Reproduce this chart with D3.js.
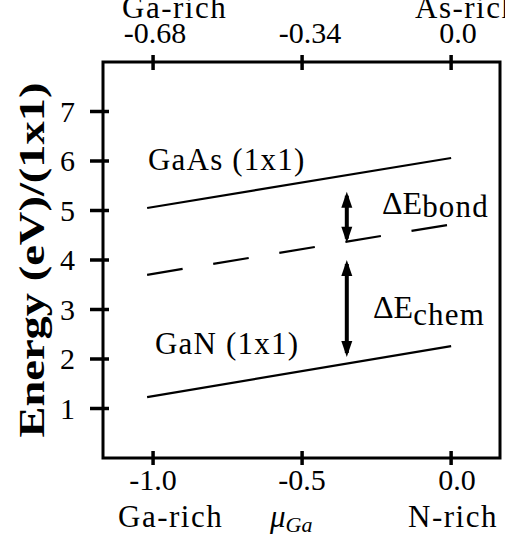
<!DOCTYPE html>
<html>
<head>
<meta charset="utf-8">
<script src="https://cdn.jsdelivr.net/npm/d3@7"></script>
<style>
  body { margin: 0; background: #fff; }
</style>
</head>
<body>
<div id="chart"></div>
<script>
// bottom axis: mu_Ga, top axis: the same range in As units
const bottomTicks = [-1.0, -0.5, 0.0];
const bottomLabels = ['-1.0', '-0.5', '0.0'];
const topTicks = [-0.68, -0.34, 0.0];
const topLabels = ['-0.68', '-0.34', '0.0'];
const yTicks = [1, 2, 3, 4, 5, 6, 7];

// energy lines (end points)
const muGa = [-1.02, 0.0];
const gaAs = [5.05, 6.06];
const mixed = [3.70, 4.72];
const gaN = [1.23, 2.26];

// double arrows at mu = -0.35
const arrowX = -0.35;
const arrowFrom = [4.35, 2.04];
const arrowTo = [5.38, 4.0];

const width = 505, height = 539;
const font = 'Liberation Serif';

const svg = d3.select('#chart').append('svg')
  .attr('width', width)
  .attr('height', height)
  .attr('font-family', font);

const x = d3.scaleLinear().domain([-1.168, 0.164]).range([103, 500]);
const xTop = d3.scaleLinear().domain([-1.168 * 0.68, 0.164 * 0.68]).range([103, 500]);
const y = d3.scaleLinear().domain([0, 8]).range([458, 62]);

// frame
svg.append('rect')
  .attr('x', x.range()[0]).attr('y', y.range()[1])
  .attr('width', x.range()[1] - x.range()[0])
  .attr('height', y.range()[0] - y.range()[1])
  .attr('fill', 'none').attr('stroke', '#000').attr('stroke-width', 3);

// ticks
svg.selectAll('.bt').data(bottomTicks).enter().append('line')
  .attr('x1', d => x(d)).attr('x2', d => x(d))
  .attr('y1', y(0) - 7).attr('y2', y(0) + 7)
  .attr('stroke', '#000').attr('stroke-width', 3.5);
svg.selectAll('.tt').data(topTicks).enter().append('line')
  .attr('x1', d => xTop(d)).attr('x2', d => xTop(d))
  .attr('y1', y(8) - 7).attr('y2', y(8) + 8)
  .attr('stroke', '#000').attr('stroke-width', 3.5);
svg.selectAll('.yt').data(yTicks).enter().append('line')
  .attr('x1', x.range()[0] - 13).attr('x2', x.range()[0] + 6)
  .attr('y1', d => y(d)).attr('y2', d => y(d))
  .attr('stroke', '#000').attr('stroke-width', 3.5);

// tick labels
const bottomDx = [0, 0, 6];
svg.selectAll('.bl').data(bottomTicks).enter().append('text')
  .attr('font-family', font)
  .attr('x', (d, i) => x(d) + bottomDx[i]).attr('y', 490)
  .attr('text-anchor', 'middle').attr('font-size', 30)
  .text((d, i) => bottomLabels[i]);
const topDx = [2, 8, 7];
svg.selectAll('.tl').data(topTicks).enter().append('text')
  .attr('font-family', font)
  .attr('x', (d, i) => xTop(d) + topDx[i]).attr('y', 43)
  .attr('text-anchor', 'middle').attr('font-size', 30)
  .text((d, i) => topLabels[i]);
svg.selectAll('.yl').data(yTicks).enter().append('text')
  .attr('font-family', font)
  .attr('x', 75).attr('y', d => y(d) + 10)
  .attr('text-anchor', 'end').attr('font-size', 30)
  .text(d => d);

// rich labels
const plain = (tx, ty, str, size, ls) => svg.append('text')
  .attr('font-family', font)
  .attr('x', tx).attr('y', ty).attr('font-size', size)
  .attr('letter-spacing', ls).text(str);
plain(122, 18, 'Ga-rich', 31, 1.5);
plain(415, 18, 'As-rich', 31, 1.5);
plain(118, 527, 'Ga-rich', 31, 1.5);
plain(408, 527, 'N-rich', 31, 1.5);

// x axis title
const mu = svg.append('text').attr('font-family', font)
  .attr('x', 270).attr('y', 527).attr('font-style', 'italic');
mu.append('tspan').attr('font-size', 31).text('μ');
mu.append('tspan').attr('font-size', 22).attr('dy', 5).text('Ga');

// y axis title
svg.append('text').attr('font-family', font)
  .attr('transform', 'translate(44,260) rotate(-90)')
  .attr('text-anchor', 'middle')
  .attr('font-size', 35).attr('font-weight', 'bold')
  .attr('textLength', 355).attr('lengthAdjust', 'spacingAndGlyphs')
  .text('Energy (eV)/(1x1)');

// lines
const line = d3.line().x(d => x(d[0])).y(d => y(d[1]));
const series = [
  { vals: gaAs, dash: null },
  { vals: mixed, dash: '36,31' },
  { vals: gaN, dash: null }
];
svg.selectAll('.curve').data(series).enter().append('path')
  .attr('d', s => line(muGa.map((m, i) => [m, s.vals[i]])))
  .attr('fill', 'none').attr('stroke', '#000').attr('stroke-width', 2.2)
  .attr('stroke-dasharray', s => s.dash);

// double arrows
const ax = x(arrowX);
const head = (tipY, dir) => {
  // dir = -1 points up, +1 points down
  const baseY = tipY - dir * 16;
  return `M${ax},${tipY} L${ax - 5.5},${baseY} L${ax + 5.5},${baseY} Z`;
};
arrowFrom.forEach((f, i) => {
  const y1 = y(f), y2 = y(arrowTo[i]);
  svg.append('line')
    .attr('x1', ax).attr('x2', ax)
    .attr('y1', y1 - 4).attr('y2', y2 + 4)
    .attr('stroke', '#000').attr('stroke-width', 4);
  svg.append('path').attr('d', head(y2, -1)).attr('fill', '#000');
  svg.append('path').attr('d', head(y1, 1)).attr('fill', '#000');
});

// curve labels
plain(148, 170, 'GaAs (1x1)', 31, 1.2);
plain(155, 354, 'GaN (1x1)', 31, 1.2);

const db = svg.append('text').attr('font-family', font)
  .attr('x', 382).attr('y', 214).attr('font-size', 32);
db.append('tspan').text('ΔE');
db.append('tspan').attr('dy', 3).attr('font-size', 31).attr('letter-spacing', 1.2).text('bond');

const dc = svg.append('text').attr('font-family', font)
  .attr('x', 373).attr('y', 318).attr('font-size', 32);
dc.append('tspan').text('ΔE');
dc.append('tspan').attr('dy', 7).attr('font-size', 31).attr('letter-spacing', 1.2).text('chem');
</script>
</body>
</html>
